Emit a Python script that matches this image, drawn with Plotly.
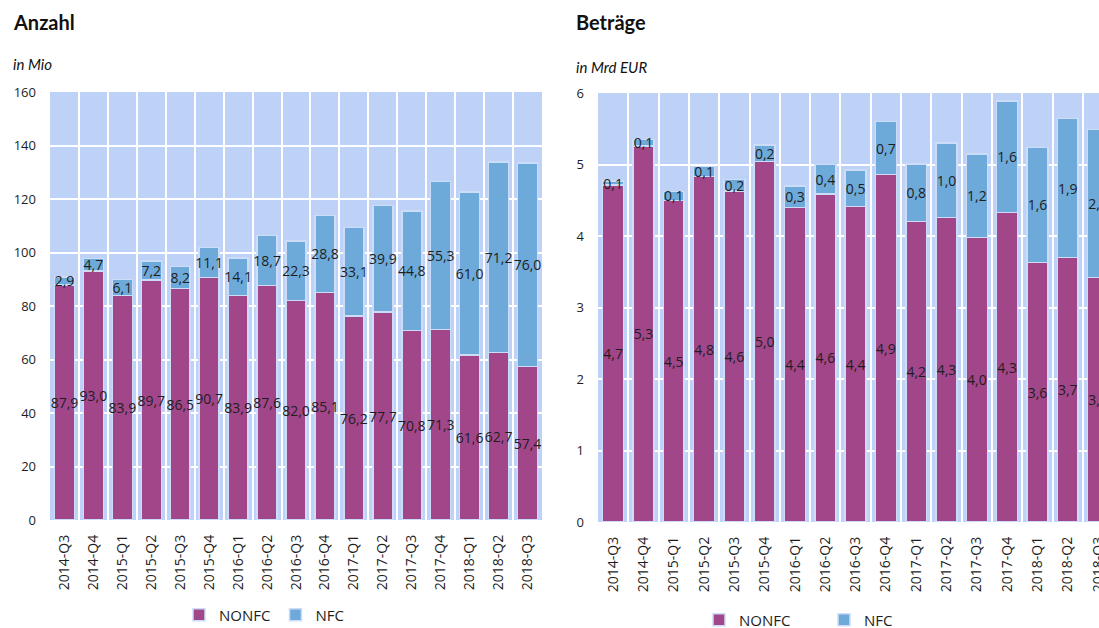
import plotly.graph_objects as go

quarters = ["2014-Q3", "2014-Q4", "2015-Q1", "2015-Q2", "2015-Q3", "2015-Q4",
            "2016-Q1", "2016-Q2", "2016-Q3", "2016-Q4", "2017-Q1", "2017-Q2",
            "2017-Q3", "2017-Q4", "2018-Q1", "2018-Q2", "2018-Q3"]

# Anzahl (in Mio)
count_nonfc = [87.9, 93.0, 83.9, 89.7, 86.5, 90.7, 83.9, 87.6, 82.0, 85.1,
               76.2, 77.7, 70.8, 71.3, 61.6, 62.7, 57.4]
count_nfc = [2.9, 4.7, 6.1, 7.2, 8.2, 11.1, 14.1, 18.7, 22.3, 28.8,
             33.1, 39.9, 44.8, 55.3, 61.0, 71.2, 76.0]

# Beträge (in Mrd EUR)
amount_nonfc = [4.71, 5.26, 4.50, 4.83, 4.63, 5.04, 4.40, 4.59, 4.41, 4.86,
                4.20, 4.26, 3.98, 4.33, 3.63, 3.70, 3.42]
amount_nfc = [0.06, 0.09, 0.12, 0.14, 0.16, 0.23, 0.30, 0.41, 0.51, 0.74,
              0.81, 1.04, 1.17, 1.56, 1.61, 1.94, 2.07]

PURPLE = "#A2468A"
BLUE = "#6DAAD9"
PLOTBG = "#BED2F8"
EDGE = "#CDDCF8"
TXT = "#1E1E1E"
FONT = "Open Sans"

fig = go.Figure()

def add_pair(nonfc, nfc, xa, ya, leg, show):
    common = dict(x=quarters, xaxis=xa, yaxis=ya, legend=leg, showlegend=show,
                  texttemplate="%{y:.1f}", textposition="inside",
                  insidetextanchor="middle", textangle=0, constraintext="none",
                  textfont=dict(family=FONT, size=14, color=TXT),
                  hoverinfo="skip")
    fig.add_trace(go.Bar(y=nonfc, name="NONFC",
                         marker=dict(color=PURPLE, line=dict(color=EDGE, width=1.5)),
                         **common))
    fig.add_trace(go.Bar(y=nfc, name="NFC",
                         marker=dict(color=BLUE, line=dict(color=EDGE, width=1.5)),
                         **common))

add_pair(count_nonfc, count_nfc, "x", "y", "legend", True)
add_pair(amount_nonfc, amount_nfc, "x2", "y2", "legend2", True)

W, H = 1099, 628

def px_x(v):
    return v / W

def px_y(v):
    return (H - v) / H

xcommon = dict(type="category", tickson="boundaries", showgrid=True,
               gridcolor="white", gridwidth=2, ticks="", tickangle=-90,
               tickfont=dict(family=FONT, size=14, color=TXT),
               showline=False, zeroline=False, automargin=False,
               ticklabelstandoff=11)
ycommon = dict(showgrid=True, gridcolor="white", gridwidth=2, ticks="",
               tickfont=dict(family=FONT, size=13, color=TXT),
               showline=False, zeroline=False, automargin=False,
               ticklabelstandoff=13)

fig.update_layout(
    width=W, height=H,
    margin=dict(l=0, r=0, t=0, b=0, autoexpand=False),
    paper_bgcolor="white", plot_bgcolor=PLOTBG,
    barmode="stack", bargap=0.31,
    separators=",.",
    font=dict(family=FONT, color=TXT),
    xaxis=dict(domain=[px_x(50), px_x(542)], anchor="y",
               range=[-0.5, 16.5], **xcommon),
    yaxis=dict(domain=[px_y(520), px_y(92)], anchor="x",
               range=[0, 160], dtick=20, **ycommon),
    xaxis2=dict(domain=[px_x(598), 1.0], anchor="y2",
                range=[-0.5, 16.03], **xcommon),
    yaxis2=dict(domain=[px_y(522), px_y(93)], anchor="x2",
                range=[0, 6], dtick=1, **ycommon),
    legend=dict(orientation="h", x=px_x(264), xanchor="center",
                y=px_y(615), yanchor="middle", traceorder="normal",
                font=dict(family=FONT, size=15, color=TXT),
                bgcolor="rgba(0,0,0,0)"),
    legend2=dict(orientation="h", x=px_x(824), xanchor="center",
                 y=px_y(620), yanchor="middle", entrywidth=80, traceorder="normal",
                 font=dict(family=FONT, size=15, color=TXT),
                 bgcolor="rgba(0,0,0,0)"),
    annotations=[
        dict(text="<b>Anzahl</b>", x=px_x(11), y=px_y(22), xref="paper", yref="paper",
             xanchor="left", yanchor="middle", showarrow=False,
             font=dict(family="Lato", size=20, color="#111")),
        dict(text="<b>Beträge</b>", x=px_x(574), y=px_y(22), xref="paper", yref="paper",
             xanchor="left", yanchor="middle", showarrow=False,
             font=dict(family="Lato", size=20, color="#111")),
        dict(text="<i>in Mio</i>", x=px_x(11), y=px_y(64), xref="paper", yref="paper",
             xanchor="left", yanchor="middle", showarrow=False,
             font=dict(family="Lato", size=15, color="#111")),
        dict(text="<i>in Mrd EUR</i>", x=px_x(574), y=px_y(67), xref="paper", yref="paper",
             xanchor="left", yanchor="middle", showarrow=False,
             font=dict(family="Lato", size=15, color="#111")),
    ],
)

fig.write_html("out.html", config={"displayModeBar": False},
               post_script="document.body.style.margin='0px';")
